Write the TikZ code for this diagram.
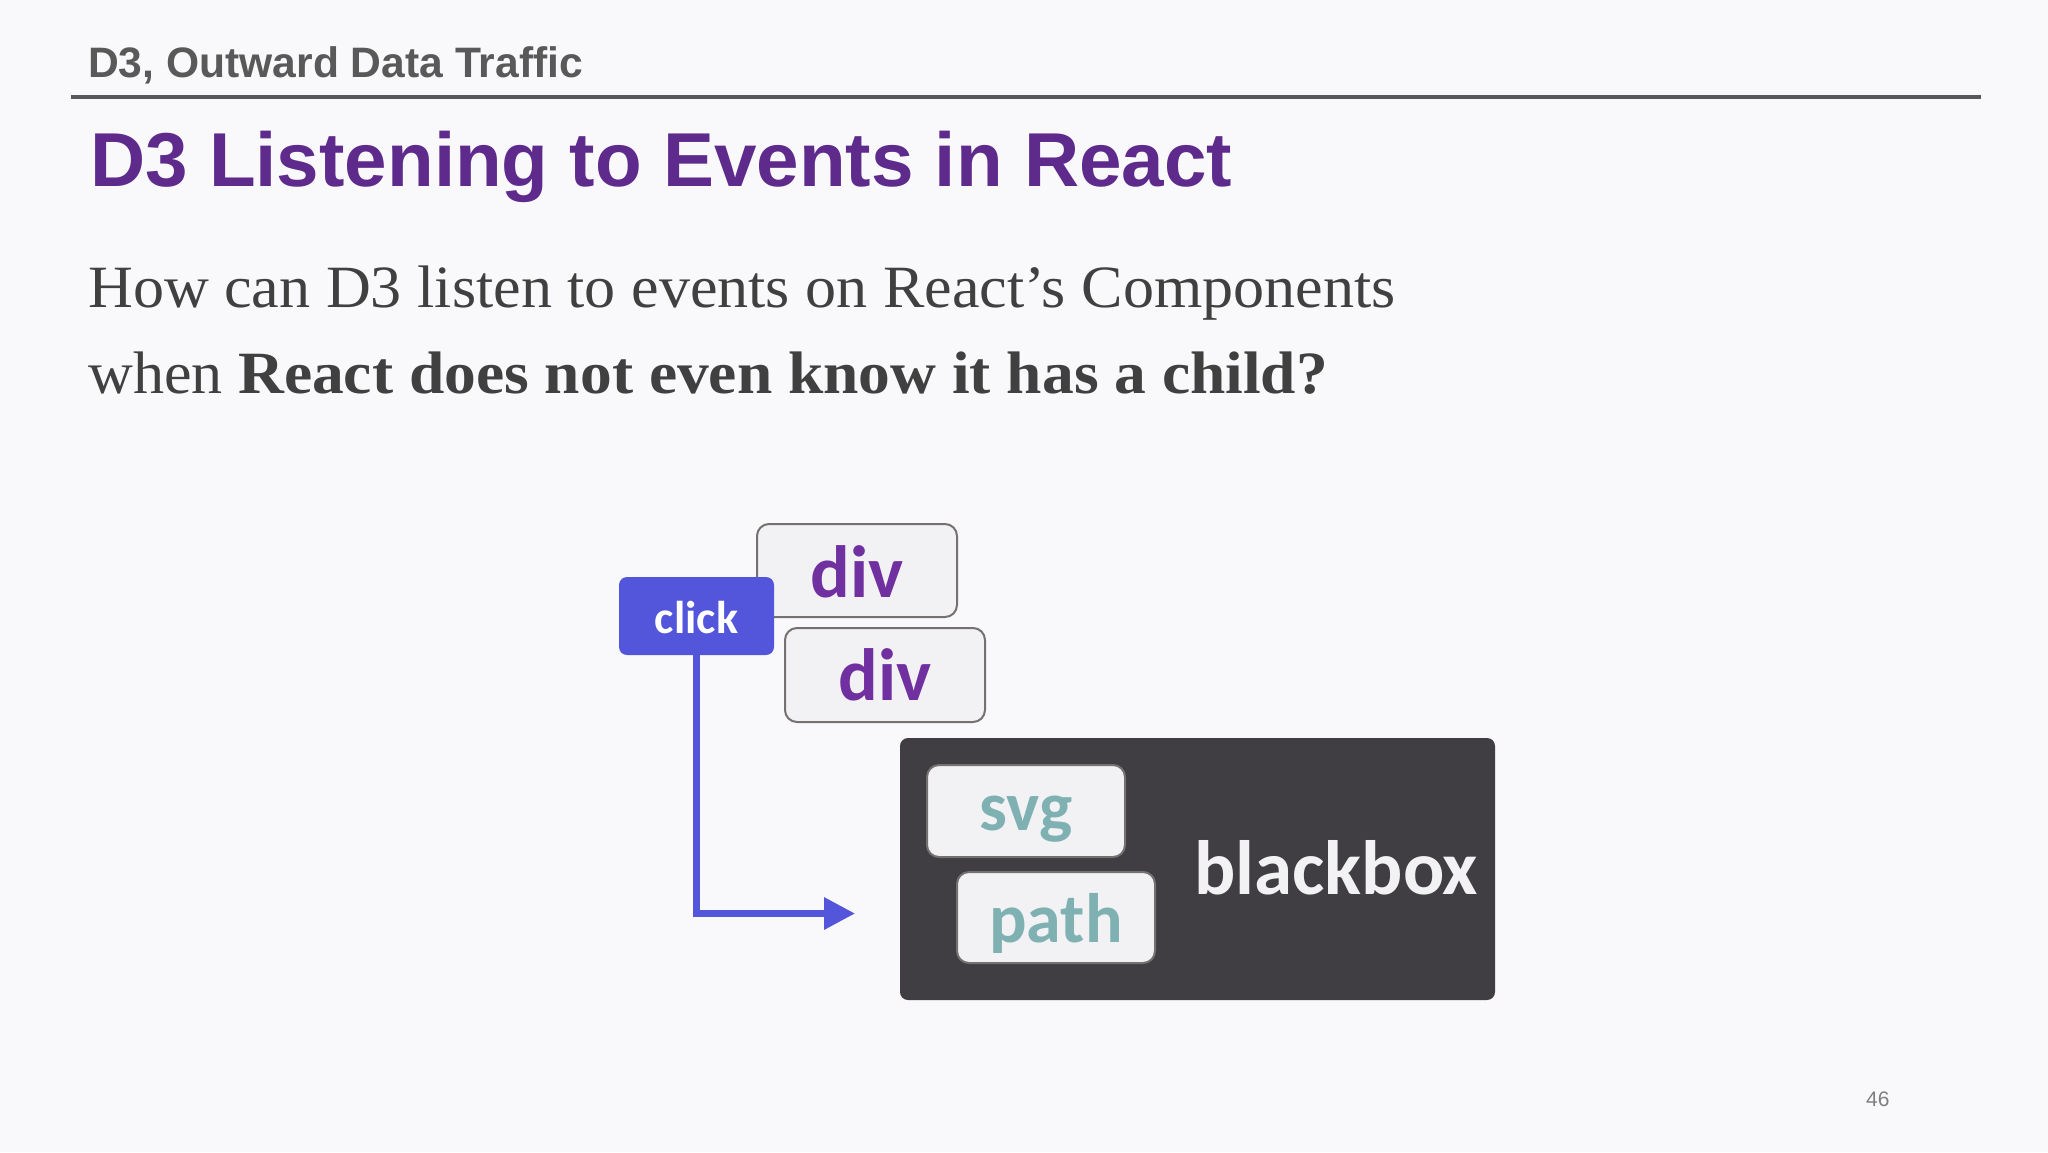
\documentclass[tikz,border=0pt]{standalone}
\usepackage{fontspec}
\setmainfont[FakeStretch=1.035, BoldFeatures={FakeStretch=1.058}]{Liberation Serif}
\newfontfamily\arialf{Liberation Sans}
\newfontfamily\calf{Carlito}
\usetikzlibrary{arrows.meta}
\definecolor{bg}{RGB}{249,249,251}
\definecolor{hdrgray}{RGB}{89,89,89}
\definecolor{titlepurple}{RGB}{94,42,140}
\definecolor{bodygray}{RGB}{64,64,64}
\definecolor{divpurple}{RGB}{112,48,160}
\definecolor{clickblue}{RGB}{83,86,218}
\definecolor{boxfill}{RGB}{242,242,244}
\definecolor{boxborder}{RGB}{118,113,113}
\definecolor{bbfill}{RGB}{64,62,66}
\definecolor{teal}{RGB}{127,177,179}
\definecolor{pagegray}{RGB}{127,127,127}
\tikzset{
  elbox/.style={draw=boxborder, line width=2, fill=boxfill, rounded corners=12, inner sep=0, text depth=0},
  divtext/.style={text=divpurple, font=\calf\bfseries\fontsize{74}{80}\selectfont},
  svgtext/.style={text=teal, font=\calf\bfseries\fontsize{70}{76}\selectfont},
  clickbox/.style={fill=clickblue, rounded corners=8, inner sep=0, text depth=0, text=white, font=\calf\bfseries\fontsize{46}{50}\selectfont},
  bodytext/.style={anchor=base west, inner sep=0, text=bodygray, font=\fontsize{60}{66}\selectfont},
  flow/.style={draw=clickblue, line width=6.5, line join=miter, -{Triangle[length=31pt,width=31pt]}}
}
\begin{document}
\begin{tikzpicture}[x=1pt,y=-1pt]
\fill[bg] (0,0) rectangle (2048,1152);
\useasboundingbox (0,0) rectangle (2048,1152);

% header
\node[anchor=base west, inner sep=0, text=hdrgray, font=\arialf\bfseries\fontsize{42.6}{48}\selectfont] (hdr) at (88,77) {D3, Outward Data Traffic};
\draw[hdrgray, line width=4] (71,97) -- (1981,97);

% title
\node[anchor=base west, inner sep=0, text=titlepurple, font=\arialf\bfseries\fontsize{76.4}{84}\selectfont] (title) at (90,186) {D3 Listening to Events in React};

% body
\node[bodytext] (line1) at (88,307) {How can D3 listen to events on React’s Components};
\node[bodytext] (line2) at (88,393) {when \textbf{React does not even know it has a child?}};

% diagram
\node[elbox, divtext, minimum width=200, minimum height=93, text height=53] (div1) at (857,570.5) {div};
\node[elbox, divtext, minimum width=200, minimum height=94, text height=50] (div2) at (885,675) {div};
\node[clickbox, minimum width=155, minimum height=78, text height=34] (click) at (696.5,616) {click};

\node[fill=bbfill, rounded corners=8, minimum width=595, minimum height=262, inner sep=0] (bb) at (1197.5,869) {};
\node[elbox, svgtext, minimum width=198, minimum height=92, text height=38] (svg) at (1026,811) {svg};
\node[elbox, svgtext, minimum width=198, minimum height=91, text height=49] (path) at (1056,917.5) {path};
\node[anchor=base west, inner sep=0, text=boxfill, font=\calf\bfseries\fontsize{77}{82}\selectfont] (bbtext) at (1194,894) {blackbox};

\coordinate (tip) at (855,913.5);
\draw[flow] (click.south) |- (tip);

% page number
\node[anchor=base west, inner sep=0, text=pagegray, font=\arialf\fontsize{21}{24}\selectfont] (pnum) at (1866,1106) {46};
\end{tikzpicture}
\end{document}
